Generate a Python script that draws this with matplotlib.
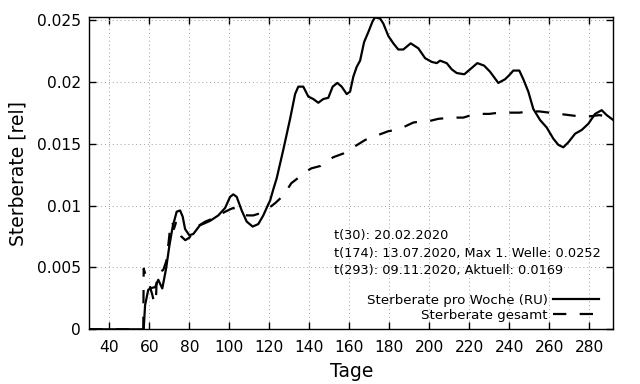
import matplotlib
matplotlib.use("Agg")
import matplotlib.pyplot as plt

plt.rcParams['font.family'] = ['DejaVu Sans']

# Weekly death rate (solid)
days_week = [30, 57.2, 57.9, 59.5, 61.2, 62.9, 64.5, 66.5, 68.4, 70, 71.7, 73.7, 75.4, 76.7, 77.9,
             80, 82, 85.3, 90.4, 94.5, 97.9, 100.4, 102, 103.7, 106.2, 108.7, 111.7, 114.5, 117,
             119.5, 120.4, 122, 123.7, 127, 130.4, 132.9, 134.5, 137, 139.5, 142, 144.5, 147, 149.5,
             151.7, 154, 156.2, 158.7, 160.4, 162, 163.7, 165.4, 167.4, 169.5, 171.7, 172.9, 175.4,
             177, 179.5, 182, 184.5, 187, 190.7, 194.5, 197.9, 201.2, 203.7, 205.4, 208.7, 211.2,
             213.7, 217.5, 220.4, 224, 227.4, 230.4, 234.5, 237.9, 240.4, 242, 245, 247, 249.5, 252,
             255.4, 258.7, 262, 264.5, 267, 269.5, 272.9, 276.2, 279.5, 282.9, 286.2, 288.7, 292]
rate_week = [0, 0, 0.00196, 0.0032, 0.00335, 0.0034, 0.0040, 0.0033, 0.0049, 0.0067, 0.0083, 0.0095,
             0.0096, 0.0091, 0.0081, 0.0076, 0.0077, 0.0084, 0.00876, 0.0092, 0.0098, 0.0107, 0.0109,
             0.0107, 0.0096, 0.0087, 0.0083, 0.0085, 0.0092, 0.0101, 0.0104, 0.0113, 0.0122, 0.0145,
             0.0170, 0.0190, 0.0196, 0.0196, 0.0188, 0.0186, 0.0183, 0.0186, 0.0187, 0.0196, 0.0199,
             0.0196, 0.0190, 0.0192, 0.0204, 0.0212, 0.0217, 0.0232, 0.0240, 0.0249, 0.0252, 0.0251,
             0.0247, 0.0237, 0.0231, 0.0226, 0.0226, 0.0231, 0.0227, 0.0219, 0.0216, 0.0215, 0.0217,
             0.0215, 0.0210, 0.0207, 0.0206, 0.0210, 0.0215, 0.0213, 0.0208, 0.0199, 0.0202, 0.0206,
             0.0209, 0.0209, 0.0202, 0.0192, 0.0178, 0.0169, 0.0163, 0.0154, 0.0149, 0.0147, 0.0151,
             0.0158, 0.0161, 0.0166, 0.0174, 0.0177, 0.0173, 0.0169]

# Overall death rate (dashed)
days_total = [30, 57, 57.2, 58.5, 60, 61.5, 62.5, 63.3, 63.8, 65, 67, 68.5, 69.5, 70.7, 71.5, 72.3,
              73.3, 74.5, 76, 78, 80, 82, 85, 88, 91, 94.5, 98, 100.5, 102, 104, 106, 109, 112, 116,
              119, 123, 127, 131, 135, 138, 141, 145.7, 149, 152, 157, 160, 163, 168, 171, 174.5,
              179.5, 183, 186.7, 192, 196, 199.5, 204.5, 211, 217, 221, 225, 230, 235, 240, 245, 250,
              255, 260, 265, 270, 275, 280, 285, 289, 292]
rate_total = [0, 0, 0.0049, 0.0042, 0.0036, 0.0028, 0.0021, 0.0022, 0.0045, 0.0046, 0.0048, 0.0055,
              0.0068, 0.0086, 0.0087, 0.0081, 0.0086, 0.0081, 0.0075, 0.0072, 0.0074, 0.0078, 0.0084,
              0.0087, 0.0089, 0.0092, 0.0095, 0.0097, 0.0098, 0.0096, 0.0093, 0.0092, 0.0092, 0.0094,
              0.0097, 0.0102, 0.0108, 0.0118, 0.0123, 0.0127, 0.0130, 0.0132, 0.0136, 0.0139, 0.0142,
              0.0145, 0.0148, 0.0153, 0.0155, 0.0157, 0.0160, 0.0161, 0.0163, 0.0167, 0.0168, 0.0168,
              0.0170, 0.0171, 0.0171, 0.0173, 0.0174, 0.0174, 0.0175, 0.0175, 0.0175, 0.0176, 0.0176,
              0.0175, 0.0174, 0.0173, 0.0172, 0.0172, 0.0173, 0.0172, 0.0171]

xticks = [40, 60, 80, 100, 120, 140, 160, 180, 200, 220, 240, 260, 280]
yticks = [0, 0.005, 0.01, 0.015, 0.02, 0.025]
ytick_labels = ['0', '0.005', '0.01', '0.015', '0.02', '0.025']
annotations = ['t(30): 20.02.2020',
               't(174): 13.07.2020, Max 1. Welle: 0.0252',
               't(293): 09.11.2020, Aktuell: 0.0169']
legend_labels = ['Sterberate pro Woche (RU)', 'Sterberate gesamt']

fig = plt.figure(figsize=(6.4, 3.84), dpi=100)
ax = fig.add_axes([0.1395, 0.1424, 0.8188, 0.8125])

ax.plot(days_week, rate_week, color='black', lw=1.6, label=legend_labels[0],
        solid_joinstyle='round')
ax.plot(days_total, rate_total, color='black', lw=1.6, dashes=(6, 6), label=legend_labels[1])

ax.set_xlim(30, 292)
ax.set_ylim(0, 0.0252)
ax.set_xticks(xticks)
ax.set_yticks(yticks)
ax.set_yticklabels(ytick_labels)
ax.tick_params(axis='both', direction='in', length=5, width=1, labelsize=11.2,
               top=True, right=True, colors='black')
ax.tick_params(axis='x', pad=8)
ax.tick_params(axis='y', pad=6)
for s in ax.spines.values():
    s.set_linewidth(1.0)
ax.grid(True, color='#a0a0a0', lw=0.7, linestyle=(0, (1, 3)))

ax.set_xlabel('Tage', fontsize=13.5, labelpad=5)
ax.set_ylabel('Sterberate [rel]', fontsize=13.5, labelpad=7)

ann_y = [0.0076, 0.00613, 0.00478]
for txt, yy in zip(annotations, ann_y):
    ax.text(152.3, yy, txt, fontsize=9.3, va='center', ha='left')

leg = ax.legend(loc='lower right', bbox_to_anchor=(0.972, 0.025), frameon=False,
                markerfirst=False, fontsize=9.6, handlelength=3.4, handletextpad=0.4,
                labelspacing=0.12, borderpad=0, borderaxespad=0)

fig.savefig('out.png', dpi=100)
